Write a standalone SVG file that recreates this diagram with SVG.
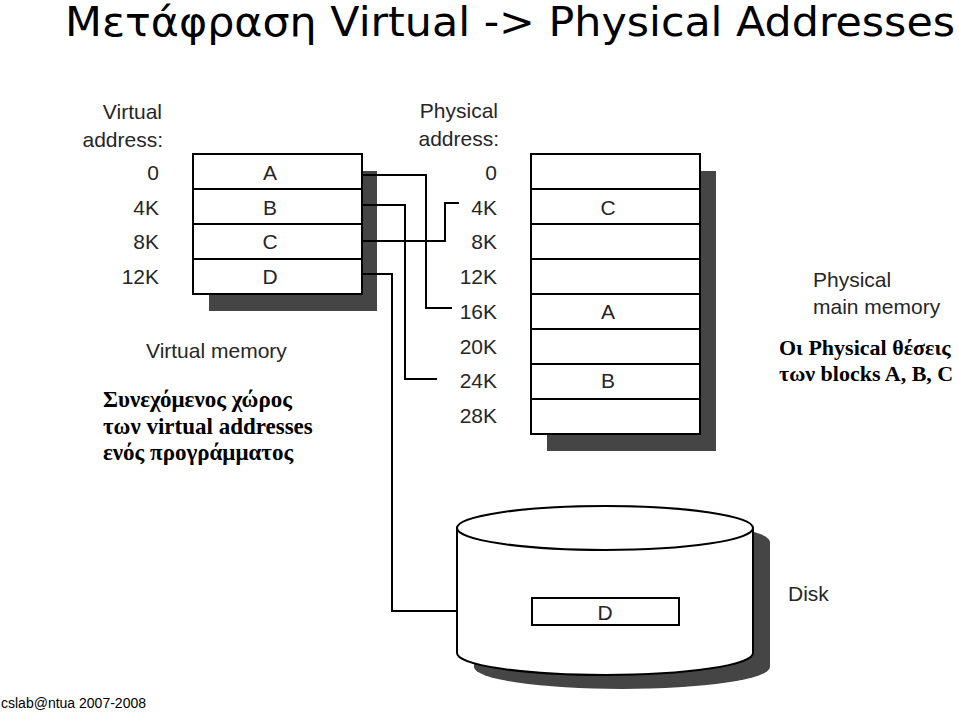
<svg xmlns="http://www.w3.org/2000/svg" width="959" height="712" viewBox="0 0 959 712">
<style>
.lbl{font-family:"Liberation Sans",Arial,sans-serif;font-size:21px;fill:#262626}
.r{text-anchor:end}
.c{text-anchor:middle}
.gr{font-family:"Liberation Serif","Times New Roman",serif;font-size:22px;font-weight:bold;fill:#000}
.grl{font-size:23px}
.box{fill:#fff;stroke:#000;stroke-width:2}
.sh{fill:#454545}
.wire{fill:none;stroke:#000;stroke-width:2}
</style>
<rect width="959" height="712" fill="#fff"/>
<text x="65" y="36" font-family="'Comic Sans MS','DejaVu Sans',sans-serif" font-size="40" textLength="890" lengthAdjust="spacingAndGlyphs" fill="#000">Μετάφραση Virtual  -&gt;  Physical Addresses</text>

<g id="virtual-memory">
<text class="lbl r" x="162" y="119">Virtual</text>
<text class="lbl r" x="163" y="147">address:</text>
<rect class="sh" x="209" y="171" width="168" height="140"/>
<rect class="box" x="193" y="154" width="169" height="140"/>
<line class="wire" x1="193" y1="189" x2="362" y2="189"/>
<line class="wire" x1="193" y1="224" x2="362" y2="224"/>
<line class="wire" x1="193" y1="259" x2="362" y2="259"/>
<text class="lbl r" x="159" y="180">0</text>
<text class="lbl r" x="159" y="215">4K</text>
<text class="lbl r" x="159" y="249">8K</text>
<text class="lbl r" x="159" y="284">12K</text>
<text class="lbl c" x="270" y="180">A</text>
<text class="lbl c" x="270" y="215">B</text>
<text class="lbl c" x="270" y="249">C</text>
<text class="lbl c" x="270" y="284">D</text>
<text class="lbl" x="146" y="358">Virtual memory</text>
</g>

<g id="physical-memory">
<text class="lbl r" x="498" y="118">Physical</text>
<text class="lbl r" x="499" y="146">address:</text>
<rect class="sh" x="547" y="171" width="169" height="280"/>
<rect class="box" x="531" y="154" width="169" height="280"/>
<line class="wire" x1="531" y1="189" x2="700" y2="189"/>
<line class="wire" x1="531" y1="224" x2="700" y2="224"/>
<line class="wire" x1="531" y1="259" x2="700" y2="259"/>
<line class="wire" x1="531" y1="294" x2="700" y2="294"/>
<line class="wire" x1="531" y1="329" x2="700" y2="329"/>
<line class="wire" x1="531" y1="364" x2="700" y2="364"/>
<line class="wire" x1="531" y1="399" x2="700" y2="399"/>
<text class="lbl r" x="497" y="180">0</text>
<text class="lbl r" x="497" y="215">4K</text>
<text class="lbl r" x="497" y="249">8K</text>
<text class="lbl r" x="497" y="284">12K</text>
<text class="lbl r" x="497" y="319">16K</text>
<text class="lbl r" x="497" y="354">20K</text>
<text class="lbl r" x="497" y="388">24K</text>
<text class="lbl r" x="497" y="423">28K</text>
<text class="lbl c" x="608" y="215">C</text>
<text class="lbl c" x="608" y="319">A</text>
<text class="lbl c" x="608" y="388">B</text>
<text class="lbl" x="813" y="287">Physical</text>
<text class="lbl" x="813" y="314">main memory</text>
</g>

<g id="disk">
<path class="sh" d="M474,542 L474,667 A148,22 0 0 0 770,667 L770,542 A148,22 0 0 0 474,542 Z"/>
<path class="box" d="M457,528 L457,653 A148,22 0 0 0 753,653 L753,528"/>
<ellipse class="box" cx="605" cy="528" rx="148" ry="22"/>
<rect class="box" x="532" y="598" width="147" height="27"/>
<text class="lbl c" x="605" y="620">D</text>
<text class="lbl" x="788" y="601">Disk</text>
</g>

<g id="connectors">
<polyline class="wire" points="362,175 426,175 426,308 452,308"/>
<polyline class="wire" points="362,205 405,205 405,379 437,379"/>
<polyline class="wire" points="362,241 445,241 445,203 459,203"/>
<polyline class="wire" points="362,274 392,274 392,611 457,611"/>
</g>

<g id="note-virtual">
<text class="gr grl" x="103" y="407">Συνεχόμενος χώρος</text>
<text class="gr grl" x="103" y="434">των virtual addresses</text>
<text class="gr grl" x="103" y="460">ενός προγράμματος</text>
</g>
<g id="note-physical">
<text class="gr" x="779" y="355">Οι Physical θέσεις</text>
<text class="gr" x="779" y="381">των blocks A, B, C</text>
</g>

<text x="1" y="708" font-family="'Liberation Sans',Arial,sans-serif" font-size="14" fill="#000">cslab@ntua 2007-2008</text>
</svg>
